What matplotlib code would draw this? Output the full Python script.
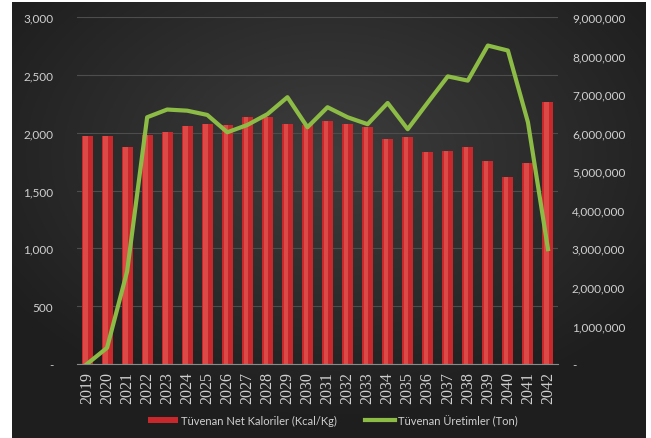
import numpy as np
import matplotlib
matplotlib.use("Agg")
import matplotlib.pyplot as plt
import matplotlib.ticker as ticker

years = [str(y) for y in range(2019, 2043)]
kalori = [1975, 1975, 1875, 1980, 2005, 2058, 2075, 2070, 2135, 2135, 2075, 2065,
          2105, 2075, 2052, 1945, 1965, 1835, 1840, 1873, 1752, 1614, 1735, 2262]
uretim = [0, 420000, 2400000, 6400000, 6600000, 6570000, 6460000, 6010000, 6200000,
          6480000, 6920000, 6140000, 6660000, 6400000, 6220000, 6770000, 6090000,
          6780000, 7460000, 7350000, 8260000, 8130000, 6270000, 2980000]

left_ticks = [0, 500, 1000, 1500, 2000, 2500, 3000]
right_ticks = [0, 1000000, 2000000, 3000000, 4000000, 5000000, 6000000, 7000000, 8000000, 9000000]

txt = "#d0d0d0"
plt.rcParams["font.family"] = ["Lato", "DejaVu Sans"]

W, H = 651, 439
fig = plt.figure(figsize=(W / 100, H / 100), dpi=100, facecolor="white")

# dark radial background panel
bg = fig.add_axes([12 / W, 0, (646 - 12) / W, 1 - 3 / H])
bg.set_axis_off()
yy, xx = np.mgrid[-1:1:200j, -1:1:300j]
r = np.sqrt((xx * 0.9) ** 2 + ((yy + 0.3) * 0.9) ** 2)
shade = np.clip(0.24 - 0.11 * r, 0.12, 0.24)
bg.imshow(np.dstack([shade, shade, shade]), aspect="auto", extent=[0, 1, 0, 1])

ax = fig.add_axes([77 / W, 1 - 365 / H, 481 / W, 347 / H])
ax.set_facecolor("none")
x = np.arange(len(years))

ax.bar(x, kalori, width=0.55, color="#c8282c", zorder=2, label="Tüvenan Net Kaloriler (Kcal/Kg)")
ax.bar(x - 0.08, kalori, width=0.22, color="#dc4a48", zorder=2.1)
ax.set_xlim(-0.5, len(years) - 0.5)
ax.set_ylim(0, 3000)
ax.yaxis.set_major_locator(ticker.FixedLocator(left_ticks))
ax.yaxis.set_major_formatter(ticker.FuncFormatter(lambda v, p: "-" if v == 0 else f"{v:,.0f}"))
ax.set_xticks(x)
ax.set_xticklabels(years, rotation=90, family="Liberation Serif", fontsize=11.5)
ax.grid(axis="y", color="#4d4d4d", linewidth=0.8, zorder=0)
ax.set_axisbelow(True)
for s in ["top", "right", "left"]:
    ax.spines[s].set_visible(False)
ax.spines["bottom"].set_color("#8a8a8a")
ax.tick_params(axis="y", colors=txt, labelsize=8.5, length=0, pad=17)
ax.tick_params(axis="x", colors=txt, length=0, pad=5)

ax2 = ax.twinx()
ax2.plot(x, uretim, color="#8cbc45", linewidth=3, zorder=3, label="Tüvenan Üretimler (Ton)")
ax2.set_ylim(0, 9000000)
ax2.yaxis.set_major_locator(ticker.FixedLocator(right_ticks))
ax2.yaxis.set_major_formatter(ticker.FuncFormatter(lambda v, p: "-" if v == 0 else f"{v:,.0f}"))
for s in ["top", "right", "left", "bottom"]:
    ax2.spines[s].set_visible(False)
ax2.tick_params(axis="y", colors=txt, labelsize=8.5, length=0, pad=10)

h1, l1 = ax.get_legend_handles_labels()
h2, l2 = ax2.get_legend_handles_labels()
leg = fig.legend(h1[:1] + h2, l1[:1] + l2, loc="center", bbox_to_anchor=(333 / W, 1 - 421 / H),
                 ncol=2, frameon=False, fontsize=8, handlelength=2.7, handleheight=0.5,
                 columnspacing=2.5, handletextpad=0.3)
for t in leg.get_texts():
    t.set_color(txt)

fig.savefig("out.png", dpi=100, facecolor="white")
